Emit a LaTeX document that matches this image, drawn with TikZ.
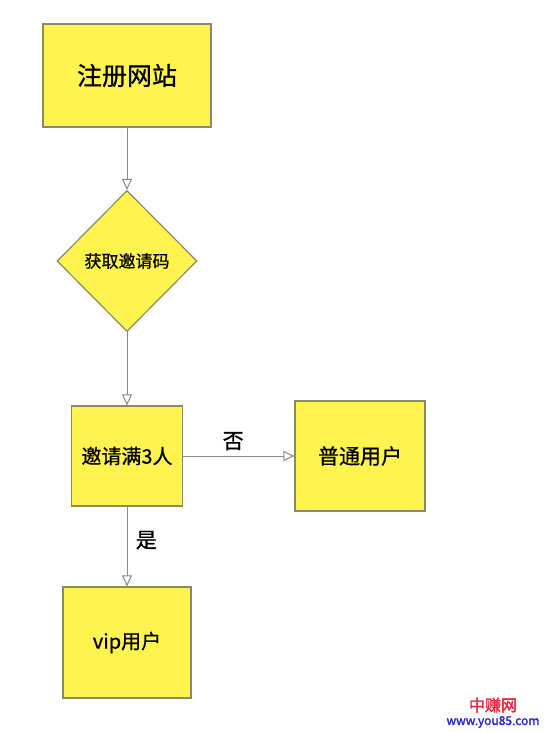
\documentclass[tikz,border=0pt]{standalone}
\usepackage{fontspec}
\newfontfamily\cjk[FakeBold=0.8]{Noto Sans CJK SC}
\newfontfamily\cjkbold[FakeBold=2]{Noto Sans CJK SC}
\usetikzlibrary{shapes.geometric,arrows.meta}
\definecolor{boxfill}{HTML}{FFF44F}
\definecolor{boxline}{HTML}{8C8A62}
\definecolor{flowline}{HTML}{8A8A8A}
\definecolor{markred}{HTML}{E8203A}
\definecolor{markblue}{HTML}{2A2AC8}
\tikzset{
  stepbox/.style={draw=boxline, fill=boxfill, line width=1.2pt, inner sep=0pt},
  flow/.style={draw=flowline, line width=1pt, -{Triangle[open,length=11pt,width=10pt]}},
  flowlabel/.style={font=\cjk\fontsize{21}{24}\selectfont}
}

\begin{document}
\begin{tikzpicture}[x=1pt,y=-1pt]
  \useasboundingbox[fill=white] (0,0) rectangle (550,732);
  % steps
  \node[stepbox, minimum width=168pt, minimum height=103pt, font=\cjk\fontsize{25}{30}\selectfont] (reg) at (127,75.5) {注册网站};
  \node[stepbox, diamond, minimum width=140pt, minimum height=141pt, font=\cjk\fontsize{17}{20}\selectfont] (code) at (127,261) {获取邀请码};
  \node[stepbox, minimum width=111pt, minimum height=100pt, font=\cjk\fontsize{20}{24}\selectfont] (full) at (127,456) {邀请满3人};
  \node[stepbox, minimum width=130pt, minimum height=110pt, font=\cjk\fontsize{21}{24}\selectfont] (normal) at (360,456) {普通用户};
  \node[stepbox, minimum width=128pt, minimum height=111pt, font=\cjk\fontsize{20}{24}\selectfont] (vip) at (127,642.5) {vip用户};
  % flow
  \draw[flow] (reg) -- (code);
  \draw[flow] (code) -- (full);
  \draw[flow] (full) -- node[flowlabel, pos=0.45, above=2pt] {否} (normal);
  \draw[flow] (full) -- node[flowlabel, pos=0.42, right=5pt] {是} (vip);
  % watermark
  \node[inner sep=0pt, font=\cjkbold\fontsize{16}{16}\selectfont, text=markred] (markcn) at (493,705) {中赚网};
  \node[inner sep=0pt, font=\cjkbold\fontsize{12}{12}\selectfont, text=markblue] (markurl) at (493,722) {www.you85.com};
\end{tikzpicture}
\end{document}
